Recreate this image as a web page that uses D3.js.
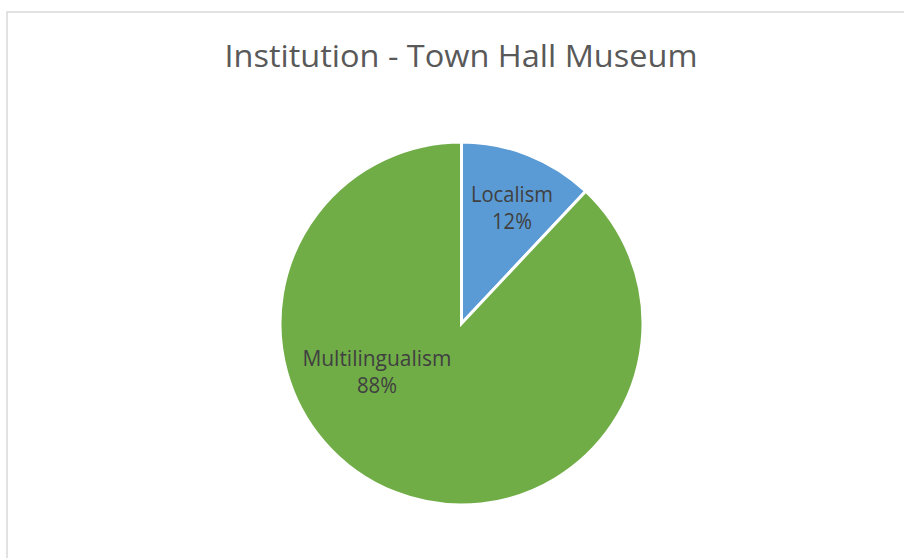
<!DOCTYPE html>
<html>
<head>
<meta charset="utf-8">
<script src="https://cdn.jsdelivr.net/npm/d3@7"></script>
<style>
  html, body { margin: 0; padding: 0; background: #fff; }
  svg { display: block; }
</style>
</head>
<body>
<svg id="chart" width="904" height="558"></svg>
<script>
// Share of responses for the Town Hall Museum
const chartTitle = "Institution - Town Hall Museum";
const categories = ["Localism", "Multilingualism"];
const shares = [12, 88];
const sliceColors = ["#5B9BD5", "#70AD47"];

// Where each data label's first baseline sits, as [x, y] offsets from the pie centre in radius units
const labelAnchors = [[0.278, -0.672], [-0.466, 0.234]];

const W = 904, H = 558;
const cx = 461.5, cy = 323.5, radius = 181.5;

const svg = d3.select("#chart");

// Chart area border (runs off the right and bottom edges)
svg.append("rect")
  .attr("x", 7).attr("y", 12)
  .attr("width", 1000).attr("height", 1000)
  .attr("fill", "#fff")
  .attr("stroke", "#d9d9d9")
  .attr("stroke-width", 1.5);

// Title
svg.append("text")
  .attr("x", 461).attr("y", 67)
  .attr("text-anchor", "middle")
  .attr("font-family", "'Open Sans', sans-serif")
  .attr("font-size", 31.5)
  .attr("fill", "#595959")
  .attr("textLength", 473)
  .attr("lengthAdjust", "spacingAndGlyphs")
  .text(chartTitle);

const data = categories.map((c, i) => ({ name: c, value: shares[i], color: sliceColors[i], anchor: labelAnchors[i] }));

const pie = d3.pie().value(d => d.value).sort(null);
const arc = d3.arc().innerRadius(0).outerRadius(radius);
const total = d3.sum(shares);

const g = svg.append("g").attr("transform", `translate(${cx},${cy})`);

g.selectAll("path.slice")
  .data(pie(data))
  .join("path")
  .attr("class", "slice")
  .attr("d", arc)
  .attr("fill", d => d.data.color)
  .attr("stroke", "#fff")
  .attr("stroke-width", 3)
  .attr("stroke-linejoin", "miter");

// Data labels: category name and percentage
const labels = g.selectAll("g.label")
  .data(pie(data))
  .join("g")
  .attr("class", "label")
  .attr("transform", d => `translate(${d.data.anchor[0] * radius},${d.data.anchor[1] * radius})`);

const nameWidth = { "Localism": 82, "Multilingualism": 149 };

labels.append("text")
  .attr("y", 0)
  .attr("text-anchor", "middle")
  .attr("font-family", "'Open Sans', sans-serif")
  .attr("font-size", 21.5)
  .attr("fill", "#404040")
  .attr("textLength", d => nameWidth[d.data.name])
  .attr("lengthAdjust", "spacingAndGlyphs")
  .text(d => d.data.name);

labels.append("text")
  .attr("y", 27.5)
  .attr("text-anchor", "middle")
  .attr("font-family", "'Open Sans', sans-serif")
  .attr("font-size", 21.5)
  .attr("fill", "#404040")
  .attr("textLength", 40)
  .attr("lengthAdjust", "spacingAndGlyphs")
  .text(d => Math.round(d.data.value / total * 100) + "%");
</script>
</body>
</html>
